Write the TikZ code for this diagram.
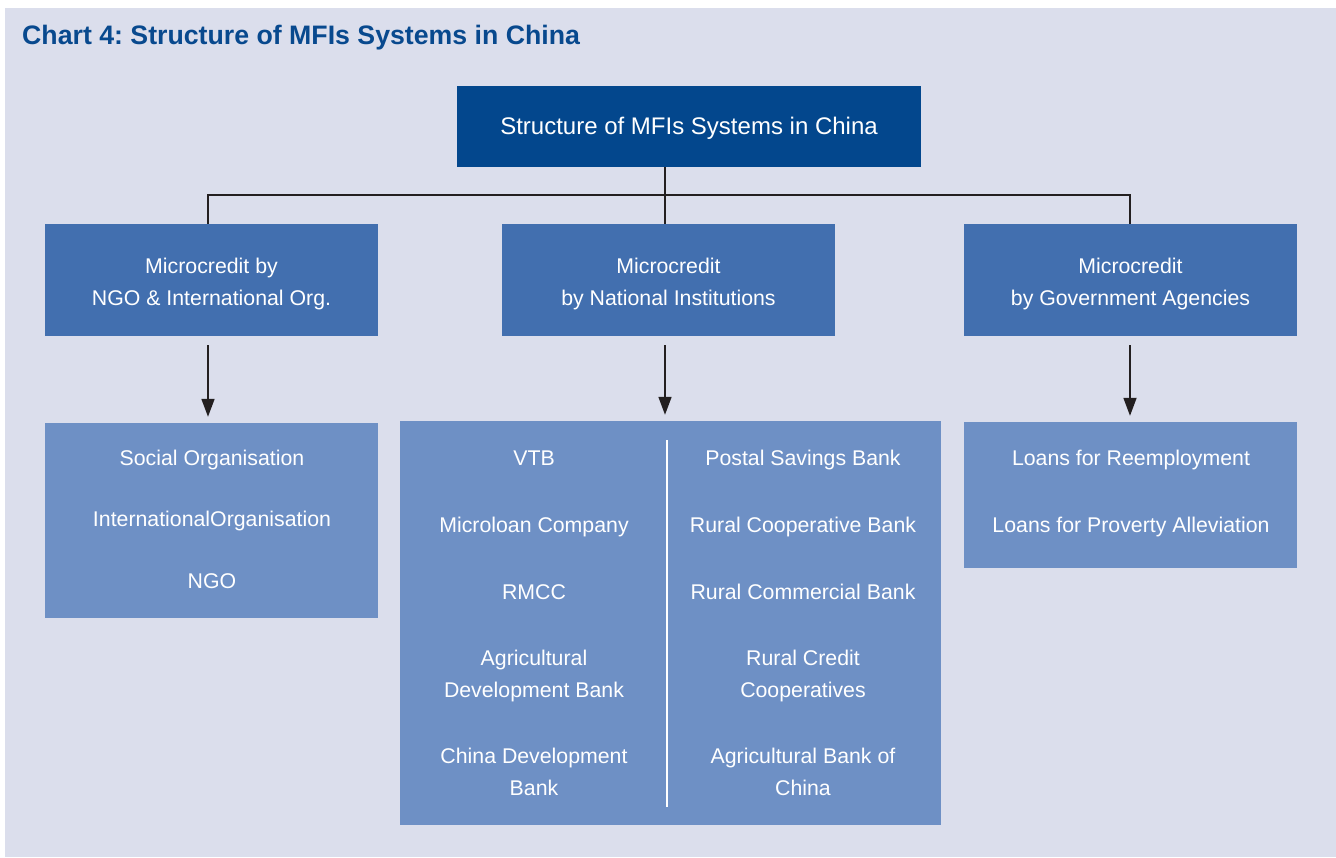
\documentclass[tikz,border=0pt]{standalone}
\usepackage{fontspec}
\setmainfont{Liberation Sans}
\usetikzlibrary{arrows.meta}
\frenchspacing
\definecolor{bgpanel}{RGB}{219,222,236}
\definecolor{navy}{RGB}{3,71,141}
\definecolor{midblue}{RGB}{66,111,175}
\definecolor{lightblue}{RGB}{110,144,197}
\definecolor{titleblue}{RGB}{8,73,142}
\definecolor{ink}{RGB}{35,31,32}
\begin{document}
\begin{tikzpicture}[x=1pt,y=-1pt,
  box/.style={rectangle, inner sep=0pt, draw=none, text=white, align=center},
  topbox/.style={box, fill=navy, minimum width=464pt, minimum height=81pt,
    text height=15pt, text depth=0pt, font=\fontsize{24}{30}\selectfont},
  catbox/.style={box, fill=midblue, minimum width=333pt, minimum height=112pt,
    text height=51.4pt, text depth=0pt, font=\fontsize{21.3}{32}\selectfont},
  listbox/.style={box, fill=lightblue},
  item/.style={text=white, inner sep=0pt, align=center, anchor=base,
    font=\fontsize{21.3}{32}\selectfont},
  tree/.style={draw=ink, line width=1.7pt},
  down/.style={tree, -{Triangle[width=13pt,length=18pt]},
    shorten <=9pt, shorten >=6pt}]

% page and panel
\useasboundingbox (0,0) rectangle (1336,857);
\fill[white] (0,0) rectangle (1336,857);
\fill[bgpanel] (5,8) rectangle (1336,857);

% heading
\node[anchor=base west, inner sep=0pt, text=titleblue,
  font=\fontsize{26.7}{32}\selectfont\bfseries] (title) at (22,44)
  {Chart 4: Structure of MFIs Systems in China};

% root
\node[topbox] (root) at (689,126.5) {Structure of MFIs Systems in China};

% categories
\node[catbox] (ngo) at (211.5,280) {Microcredit by\\NGO \& International Org.};
\node[catbox] (nat) at (668.5,280) {Microcredit\\by National Institutions};
\node[catbox] (gov) at (1130.5,280) {Microcredit\\by Government Agencies};

% lists
\node[listbox, minimum width=333pt, minimum height=194.5pt] (ngolist) at (211.5,520.25) {};
\node[listbox, minimum width=541pt, minimum height=403.5pt] (natlist) at (670.5,622.75) {};
\node[listbox, minimum width=333pt, minimum height=145.5pt] (govlist) at (1130.5,494.75) {};

% column positions of the connectors
\coordinate (bus) at (665,195);
\coordinate (colA) at (208,195);
\coordinate (colC) at (1130,195);

% tree
\draw[tree] (root.south -| bus) -- (nat.north -| bus);
\draw[tree] (ngo.north -| colA) |- (bus) -| (gov.north -| colC);

% arrows
\draw[down] (ngo.south -| colA) -- (ngolist.north -| colA);
\draw[down] (nat.south -| bus) -- (natlist.north -| bus);
\draw[down] (gov.south -| colC) -- (govlist.north -| colC);

% divider in the national list
\draw[white, line width=1.5pt] (667,440) -- (667,806.5);

% NGO list
\node[item] (n1) at (212,465) {Social Organisation};
\node[item] (n2) at (212,526) {InternationalOrganisation};
\node[item] (n3) at (212,588) {NGO};

% national institutions, left column (base = last line)
\node[item] (a1) at (534,465) {VTB};
\node[item] (a2) at (534,532) {Microloan Company};
\node[item] (a3) at (534,599) {RMCC};
\node[item] (a4) at (534,697) {Agricultural\\Development Bank};
\node[item] (a5) at (534,795) {China Development\\Bank};

% national institutions, right column
\node[item] (b1) at (803,465) {Postal Savings Bank};
\node[item] (b2) at (803,532) {Rural Cooperative Bank};
\node[item] (b3) at (803,599) {Rural Commercial Bank};
\node[item] (b4) at (803,697) {Rural Credit\\Cooperatives};
\node[item] (b5) at (803,795) {Agricultural Bank of\\China};

% government list
\node[item] (g1) at (1131,465) {Loans for Reemployment};
\node[item] (g2) at (1131,532) {Loans for Proverty Alleviation};
\end{tikzpicture}
\end{document}
